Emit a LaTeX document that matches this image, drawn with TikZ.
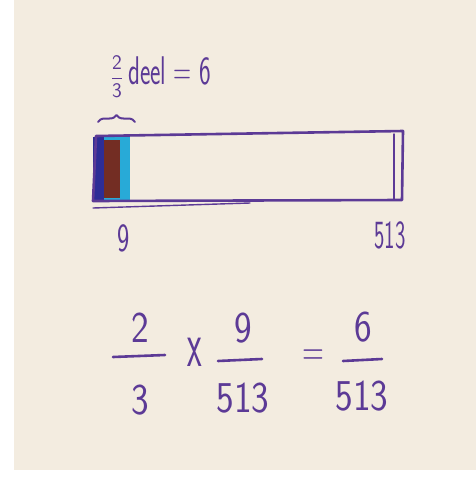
\documentclass[tikz,border=0pt]{standalone}
\usetikzlibrary{decorations.pathreplacing}
\definecolor{paper}{RGB}{243,236,224}
\definecolor{ink}{RGB}{92,58,150}
\definecolor{inkblue}{RGB}{45,45,150}
\definecolor{inkbrown}{RGB}{115,45,35}
\definecolor{inkcyan}{RGB}{40,170,215}
\begin{document}
\begin{tikzpicture}[x=1pt,y=-1pt,
	ink/.style={draw=ink, line width=2.6pt, line cap=round, line join=round},
	lbl/.style={text=ink, inner sep=0pt, font=\sffamily\fontsize{40}{40}\selectfont, xscale=0.65, transform shape},
	num/.style={text=ink, inner sep=0pt, font=\sffamily\fontsize{44}{44}\selectfont, xscale=0.85, transform shape}]
	\useasboundingbox (0,0) rectangle (476,479);
	\fill[white] (0,0) rectangle (476,479);
	\fill[paper] (14,0) rectangle (476,470);
	\fill[inkcyan] (93,137) rectangle (130,201);
	\fill[inkbrown] (104,140) rectangle (120,198);
	\fill[inkblue] (93,137) rectangle (104,202);
	\coordinate (tl) at (96,136);
	\coordinate (tr) at (403,131);
	\coordinate (br) at (402,200);
	\coordinate (bl) at (93,201);
	\draw[ink] (tl) -- (tr) -- (br) -- (bl) -- cycle;
	\draw[ink, line width=1.4pt] (93,208) -- (250,203);
	\draw[ink, line width=1.4pt] (394,134) -- (394,199);
	\node[lbl] (nine) at (124,238) {9};
	\node[lbl, xscale=0.85] (total) at (390,235) {513};
	\node[text=ink, inner sep=0pt, font=\fontsize{21}{21}\selectfont] (part) at (117,77) {$\displaystyle\frac{\mathsf{2}}{\mathsf{3}}$};
	\node[lbl, anchor=west, xscale=0.95] (deel) at (128,71) {deel = 6};
	\draw[ink, line width=2pt, decorate, decoration={brace, amplitude=7pt}] (98,122) -- (135,122);
	\node[num] (n1) at (140,328) {2};
	\node[num] (d1) at (140,400) {3};
	\coordinate (b1l) at (113,357);
	\coordinate (b1r) at (165,355);
	\draw[ink] (b1l) -- (b1r);
	\node[num, font=\sffamily\fontsize{66}{66}\selectfont, xscale=0.6] (times) at (195,352) {x};
	\node[num] (n2) at (243,328) {9};
	\node[num] (d2) at (243,398) {513};
	\coordinate (b2l) at (218,361);
	\coordinate (b2r) at (262,359);
	\draw[ink] (b2l) -- (b2r);
	\node[num, xscale=0.8] (eq) at (313,358) {=};
	\node[num] (n3) at (363,327) {6};
	\node[num] (d3) at (362,396) {513};
	\coordinate (b3l) at (343,361);
	\coordinate (b3r) at (382,359);
	\draw[ink] (b3l) -- (b3r);
\end{tikzpicture}
\end{document}
